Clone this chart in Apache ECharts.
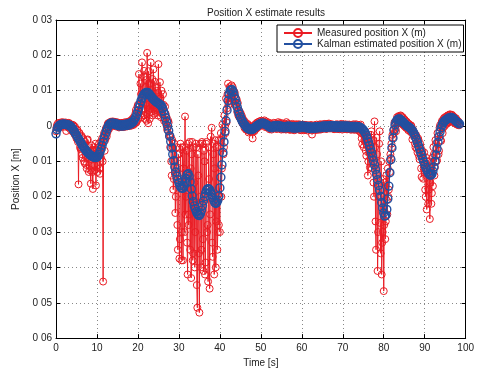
<!DOCTYPE html>
<html><head><meta charset="utf-8">
<script src="https://cdn.jsdelivr.net/npm/echarts@6/dist/echarts.min.js"></script>
<style>html,body{margin:0;padding:0;background:#fff}#c{width:477px;height:373px}</style>
</head><body><div id="c"></div>
<script>
// sampling steps of the two recorded series (seconds)
const measuredStep = 0.125;
const kalmanStep = 0.25;
const titleText = 'Position X estimate results';
const seriesNames = ['Measured position X (m)', 'Kalman estimated position X (m)'];
const xTicks = [0,10,20,30,40,50,60,70,80,90,100];
const yTickLabels = {'0.03':'0 03','0.02':'0 02','0.01':'0 01','0':'0','-0.01':'0 01','-0.02':'0 02','-0.03':'0 03','-0.04':'0 04','-0.05':'0 05','-0.06':'0 06'};

// Measured position X, millimetres (8 samples per second, one row per second)
const measuredMM = [
 -1.5,-0.4,0.3,-0.6,0.8,0.1,-0.2,0.9,
 0.6,-0.3,1.0,0.4,0.2,1.1,0.7,-0.2,
 0.9,0.3,0.1,1.0,-1.4,0.5,0.8,0.0,
 -0.2,0.9,0.6,-0.4,-0.9,0.5,0.3,-0.6,
 -1.5,0.3,0.2,-1.0,-2.3,-0.2,-0.8,-2.8,
 -3.5,-1.0,-1.2,-4.5,-16.5,-2.0,-2.0,-6.0,
 -6.5,-3.0,-2.8,-8.0,-9.0,-3.5,-4.0,-10.0,
 -10.5,-4.5,-5.5,-11.0,-12.0,-4.0,-3.8,-9.0,
 -13.0,-6.0,-7.0,-12.5,-16.3,-5.5,-9.5,-13.0,
 -17.8,-7.0,-6.0,-11.0,-12.5,-5.0,-16.8,-8.0,
 -7.0,-13.0,-11.0,-6.0,-5.0,-12.0,-13.5,-4.5,
 -9.0,-6.0,-3.5,-10.0,-44.0,-3.0,-2.0,-7.0,
 -4.0,-1.0,-0.5,-3.0,-2.0,0.5,0.8,-1.0,
 0.9,0.0,-0.3,1.2,1.2,0.2,0.5,1.3,
 1.0,0.1,0.3,1.2,0.9,-0.1,0.5,1.0,
 0.2,1.0,0.6,-0.4,-0.2,0.8,0.4,-0.3,
 0.1,0.9,0.6,-0.3,0.0,1.0,0.5,-0.2,
 0.3,1.1,0.8,-0.1,0.2,1.2,0.9,0.0,
 0.5,1.5,1.2,0.1,0.4,2.0,1.8,0.3,
 2.5,0.6,0.8,3.5,4.5,1.0,1.5,5.5,
 6.0,2.0,14.7,4.0,3.0,12.0,9.0,2.5,
 18.0,4.5,5.0,14.0,15.6,3.0,2.0,11.0,
 13.0,1.5,20.7,6.0,0.8,15.5,12.0,2.0,
 5.0,18.0,4.0,6.0,13.3,3.0,16.0,5.0,
 3.5,12.5,11.0,4.0,5.0,10.0,9.5,3.0,
 17.5,5.0,4.0,12.4,7.8,2.5,10.0,4.0,
 3.3,9.0,6.0,1.5,2.0,5.5,3.5,0.5,
 2.5,-1.0,-0.5,1.5,1.0,-3.0,-2.5,-6.0,
 -3.0,-10.0,-14.0,-4.0,-6.0,-18.0,-15.0,-5.0,
 -10.0,-24.6,-20.0,-6.0,-12.0,-28.0,-35.0,-8.0,
 -8.0,-37.5,-32.0,-5.0,-15.0,-38.0,-30.0,-6.0,
 -38.0,-12.0,-6.0,-30.0,2.7,-25.0,-20.0,-7.0,
 -33.0,-42.0,-5.0,-28.0,-25.0,-4.5,-35.0,-12.0,
 -43.0,-8.0,-4.5,-38.0,-36.0,-6.0,-16.0,-40.0,
 -30.0,-5.0,-6.0,-45.0,-51.4,-8.0,-14.0,-36.0,
 -52.8,-20.0,-5.0,-40.0,-35.0,-4.5,-5.0,-32.0,
 -41.0,-7.0,-10.0,-42.0,-38.6,-5.0,-4.5,-30.0,
 -28.0,-44.0,-6.0,-15.0,-46.0,-25.0,-3.0,-20.0,
 -0.5,-33.0,-37.0,-8.0,-5.0,-42.0,-12.0,-4.0,
 -40.0,-27.0,-6.0,-35.0,-30.0,-4.0,-28.0,-20.0,
 -30.0,-4.0,-2.0,-20.0,-12.0,0.4,-3.0,-8.0,
 -6.0,3.0,0.0,-2.0,7.8,1.0,5.0,9.0,
 12.0,6.0,8.0,11.0,10.5,7.0,8.0,11.5,
 9.0,11.0,7.5,10.0,7.0,9.5,6.0,8.0,
 5.5,7.5,4.0,6.5,3.0,4.5,2.5,4.0,
 2.2,3.5,1.5,2.8,0.8,2.0,0.5,1.5,
 -0.5,1.2,0.2,-1.0,-1.0,0.3,0.6,-1.2,
 -1.8,0.2,-0.4,-1.5,-1.5,-0.2,-0.4,-1.6,
 -3.5,-0.3,-0.2,-1.5,-1.2,0.4,0.6,-0.8,
 -0.5,1.0,0.6,-0.3,0.0,1.3,1.3,0.1,
 0.8,1.5,0.2,1.2,1.4,0.2,0.4,1.6,
 1.0,-0.3,0.2,1.2,0.9,-0.4,0.0,1.0,
 0.5,-0.9,-0.4,0.6,0.3,-1.0,-0.6,0.4,
 0.2,0.9,-0.6,0.3,0.8,-0.5,-0.8,0.6,
 -0.8,0.4,1.1,-0.3,-0.5,0.6,0.9,-0.7,
 -1.0,0.3,0.7,-0.6,-0.9,0.2,0.5,-0.8,
 0.5,-1.0,1.1,0.1,-0.8,0.7,0.4,-0.9,
 0.1,-1.1,-0.6,0.4,-0.9,0.2,0.6,-1.0,
 -0.2,-1.2,0.3,0.0,-1.0,0.5,-0.4,-0.8,
 0.2,-0.9,0.5,-0.3,-1.1,0.4,0.0,-1.2,
 0.0,-0.8,0.4,-0.5,-1.2,0.3,0.1,-1.0,
 0.3,-1.0,0.0,-0.4,-1.3,0.2,-0.2,-0.9,
 -0.2,-1.1,0.3,-0.8,-2.4,-0.6,0.1,-1.0,
 0.1,-1.2,0.2,-0.5,-0.9,0.4,-0.1,-1.1,
 -0.1,-0.8,0.4,-0.6,-1.0,0.5,0.0,-0.9,
 0.3,-0.7,0.5,-0.4,-0.6,0.6,0.1,-0.8,
 0.2,-0.8,0.6,-0.3,-0.5,0.7,0.2,-0.7,
 0.4,-0.6,0.5,-0.5,-0.7,0.4,0.0,-0.9,
 0.3,-0.7,0.4,-0.4,-0.8,0.5,0.1,-0.8,
 0.2,-0.9,0.3,-0.5,-0.6,0.6,-0.1,-1.0,
 0.4,-0.8,0.2,-0.6,-0.7,0.5,0.0,-0.9,
 0.3,-0.9,0.4,-0.5,-0.8,0.4,-0.1,-1.0,
 0.2,-1.0,0.3,-0.6,-0.9,0.5,0.0,-1.1,
 0.1,-0.8,0.5,-0.4,-1.0,0.3,-0.2,-1.2,
 0.2,-1.5,-1.0,0.4,-2.0,-3.5,-5.2,-1.0,
 -2.4,-6.0,-4.0,-1.5,-3.0,-7.0,-8.4,-3.0,
 -5.6,-14.0,-10.0,-3.5,-6.0,-11.7,-9.0,-2.5,
 -1.5,-12.0,-9.0,-4.0,-16.0,-20.0,1.3,-6.0,
 -27.0,-35.0,-3.3,-8.0,-41.0,-30.0,-20.0,-5.0,
 -1.5,-27.4,-36.0,-10.0,-42.0,-33.0,-30.0,-15.0,
 -46.7,-28.0,-16.0,-32.0,-27.0,-14.0,-21.0,-25.0,
 -12.0,-20.0,-18.0,-10.0,-13.0,-8.0,-9.0,-5.0,
 -6.0,-2.5,-3.3,-1.0,-2.0,1.0,0.5,-0.8,
 -1.5,1.5,2.5,0.8,1.0,2.8,2.6,1.0,
 1.0,3.0,2.8,0.8,0.5,2.5,2.2,0.3,
 0.0,1.8,1.5,-0.4,-0.5,1.2,0.9,-0.8,
 -1.2,0.6,0.4,-1.0,-1.6,0.2,0.0,-2.0,
 -3.8,-1.0,-1.5,-3.0,-2.0,-5.0,-6.0,-2.5,
 -3.0,-6.5,-7.5,-3.5,-4.0,-8.5,-9.4,-5.0,
 -6.0,-12.0,-14.4,-7.0,-8.0,-14.9,-12.0,-7.5,
 -11.0,-18.0,-20.0,-9.0,-23.6,-12.0,-10.0,-22.0,
 -18.0,-10.0,-26.3,-16.0,-12.0,-22.0,-19.0,-9.0,
 -17.0,-6.0,-8.0,-14.0,-11.7,-4.0,-5.0,-10.0,
 -9.7,-2.0,-3.0,-8.0,-7.0,-0.5,0.2,-4.0,
 -4.2,1.0,1.5,-2.0,-0.5,2.0,2.3,0.0,
 0.8,2.6,2.5,0.6,1.0,3.0,3.0,1.0,
 1.5,3.3,3.2,1.4,1.6,3.2,3.0,1.2,
 1.2,2.6,2.4,0.8,0.8,2.2,1.8,0.4,
 0.4,1.4,1.2,0.2,0.6
];

// Kalman estimated position X, millimetres (4 samples per second)
const kalmanMM = [
 -2.2,-1.0,-0.3,0.1,  0.3,0.4,0.5,0.5,  0.5,0.5,0.4,0.4,  0.3,0.2,0.0,-0.3,  -0.7,-1.1,-1.6,-2.1,
 -2.6,-3.1,-3.6,-4.1,  -4.6,-5.1,-5.6,-6.0,  -6.4,-6.8,-7.2,-7.5,  -7.8,-8.1,-8.3,-8.5,  -8.7,-8.8,-8.9,-8.9,
 -8.8,-8.5,-8.0,-7.3,  -6.5,-5.5,-4.5,-3.5,  -2.5,-1.6,-0.8,-0.1,  0.4,0.7,0.8,0.8,  0.8,0.5,0.7,0.3,
 0.5,0.1,0.4,0.0,  0.3,0.0,0.4,0.1,  0.5,0.2,0.6,0.3,  0.8,0.6,1.1,1.0,  1.5,2.0,2.6,3.3,
 4.2,5.2,6.2,7.1,  7.9,8.5,9.0,9.3,  9.5,9.5,9.4,9.1,  8.7,8.3,7.9,7.6,  7.3,7.0,6.8,6.6,
 6.4,6.2,6.0,5.7,  5.0,4.2,3.3,2.3,  1.2,0.0,-1.3,-2.8,  -4.4,-6.2,-8.0,-9.8,  -11.6,-13.0,-14.2,-15.2,
 -16.0,-16.8,-17.4,-17.6,  -17.6,-17.0,-16.0,-14.8,  -13.8,-13.5,-14.2,-15.8,  -17.8,-19.8,-21.4,-22.6,  -23.4,-24.2,-24.8,-25.2,
 -25.3,-24.8,-23.8,-22.5,  -21.2,-20.0,-19.0,-18.2,  -17.8,-17.7,-18.0,-18.6,  -19.4,-20.3,-21.0,-21.6,  -21.9,-21.6,-21.0,-19.8,
 -17.5,-14.5,-11.0,-7.5,  -4.5,-1.5,1.5,4.5,  7.2,9.0,10.0,10.3,  10.3,9.7,8.7,7.6,  6.4,5.3,4.3,3.4,
 2.6,1.9,1.3,0.8,  0.4,0.0,-0.3,-0.6,  -0.8,-0.9,-1.0,-1.0,  -0.9,-0.7,-0.5,-0.2,  0.0,0.2,0.4,0.6,
 0.7,0.8,0.8,0.7,  0.6,0.4,0.3,0.1,  -0.1,-0.4,-0.1,-0.5,  -0.1,0.1,-0.3,0.2,  -0.2,0.2,-0.3,0.0,
 -0.4,-0.1,-0.5,-0.2,  -0.5,-0.1,-0.4,0.0,  -0.4,-0.1,-0.5,-0.2,  -0.6,-0.2,-0.6,-0.3,  -0.5,-0.1,-0.5,0.0,
 -0.4,0.0,-0.4,-0.1,  -0.5,-0.1,-0.6,-0.2,  -0.7,-0.3,-0.7,-0.3,  -0.7,-0.2,-0.6,-0.2,  -0.5,-0.1,-0.5,-0.1,
 -0.4,0.0,-0.4,0.0,  -0.4,0.0,-0.3,0.1,  -0.3,0.1,-0.3,0.1,  -0.3,0.1,-0.4,0.0,  -0.4,0.0,-0.4,0.0,
 -0.4,0.0,-0.4,0.0,  -0.4,0.0,-0.5,-0.1,  -0.5,-0.1,-0.5,-0.1,  -0.5,-0.1,-0.5,-0.2,  -0.3,-0.4,-0.6,-0.8,
 -1.1,-1.5,-2.0,-2.6,  -3.6,-4.5,-5.5,-6.5,  -7.5,-8.6,-9.8,-11.0,  -12.3,-13.7,-15.2,-16.8,  -18.2,-19.9,-21.6,-23.2,
 -24.6,-25.5,-25.3,-23.6,  -20.6,-17.0,-13.2,-9.5,  -6.2,-3.4,-1.2,0.3,  1.2,1.7,1.9,2.0,  1.9,1.7,1.4,1.1,
 0.8,0.5,0.2,0.0,  -0.2,-0.4,-0.6,-0.9,  -1.3,-1.8,-2.4,-3.1,  -3.9,-4.7,-5.6,-6.5,  -7.4,-8.3,-9.2,-10.1,
 -10.9,-11.7,-12.4,-13.0,  -13.5,-13.8,-13.9,-13.6,  -12.8,-11.6,-10.0,-8.2,  -6.4,-4.6,-3.0,-1.6,  -0.5,0.3,0.9,1.3,
 1.6,1.8,2.0,2.2,  2.3,2.4,2.4,2.3,  2.1,1.8,1.5,1.2,  1.0,0.8,0.6
];

const RED = '#ea1c24', BLUE = '#2350a0';
const toPairs = (arr, step) => arr.map((v, i) => [i * step, v / 1000]);
const fmtY = v => { const k = (Math.round(v * 100) / 100).toString(); return yTickLabels[k] !== undefined ? yTickLabels[k] : k; };
const txt = '#222';
const font = 'Liberation Sans, Arial, Helvetica, sans-serif';

const chart = echarts.init(document.getElementById('c'), null, {renderer: 'canvas'});
const dotted = {show: true, lineStyle: {color: '#888', type: [1, 3], width: 1}};
const baseLine = {show: true, onZero: false, lineStyle: {color: '#000', width: 1}};
const tick = {show: true, inside: true, length: 4, lineStyle: {color: '#000'}};

chart.setOption({
  animation: false,
  backgroundColor: '#fff',
  textStyle: {fontFamily: font},
  title: {text: titleText, left: 261, top: 3, textAlign: 'center',
    textStyle: {fontSize: 10, fontWeight: 'normal', color: txt, fontFamily: font}},
  grid: {left: 56, right: 11, top: 20, bottom: 29, show: false},
  legend: {
    orient: 'vertical', left: 277, top: 25, padding: [3, 2, 3, 6], itemGap: 1,
    itemWidth: 28, itemHeight: 10, backgroundColor: '#fff', borderColor: '#000', borderWidth: 1,
    textStyle: {fontSize: 10, color: txt, fontFamily: font, lineHeight: 10},
    data: seriesNames
  },
  xAxis: [
    {type: 'value', min: xTicks[0], max: xTicks[xTicks.length - 1], interval: 10, position: 'bottom',
     name: 'Time [s]', nameLocation: 'middle', nameGap: 17,
     nameTextStyle: {fontSize: 10, color: txt, fontFamily: font},
     axisLine: baseLine, axisTick: tick, splitLine: dotted,
     axisLabel: {fontSize: 10, color: txt, margin: 5, fontFamily: font}},
    {type: 'value', min: xTicks[0], max: xTicks[xTicks.length - 1], interval: 10, position: 'top',
     axisLine: baseLine, axisTick: tick, splitLine: {show: false}, axisLabel: {show: false}}
  ],
  yAxis: [
    {type: 'value', min: -0.06, max: 0.03, interval: 0.01, position: 'left',
     name: 'Position X [m]', nameLocation: 'middle', nameGap: 35,
     nameTextStyle: {fontSize: 10, color: txt, fontFamily: font},
     axisLine: baseLine, axisTick: tick, splitLine: dotted,
     axisLabel: {fontSize: 10, color: txt, margin: 4, formatter: fmtY, fontFamily: font}},
    {type: 'value', min: -0.06, max: 0.03, interval: 0.01, position: 'right',
     axisLine: baseLine, axisTick: tick, splitLine: {show: false}, axisLabel: {show: false}}
  ],
  series: [
    {name: seriesNames[0], type: 'line', xAxisIndex: 0, yAxisIndex: 0, data: toPairs(measuredMM, measuredStep),
     symbol: 'circle', symbolSize: 7, showSymbol: true, showAllSymbol: true,
     lineStyle: {color: RED, width: 1}, itemStyle: {color: 'rgba(255,255,255,0)', borderColor: RED, borderWidth: 1},
     emphasis: {disabled: true}, z: 2},
    {name: seriesNames[1], type: 'line', xAxisIndex: 0, yAxisIndex: 0, data: toPairs(kalmanMM, kalmanStep),
     symbol: 'circle', symbolSize: 8, showSymbol: true, showAllSymbol: true,
     lineStyle: {color: BLUE, width: 1.2}, itemStyle: {color: 'rgba(255,255,255,0)', borderColor: BLUE, borderWidth: 1.4},
     emphasis: {disabled: true}, z: 3}
  ]
});
</script></body></html>
